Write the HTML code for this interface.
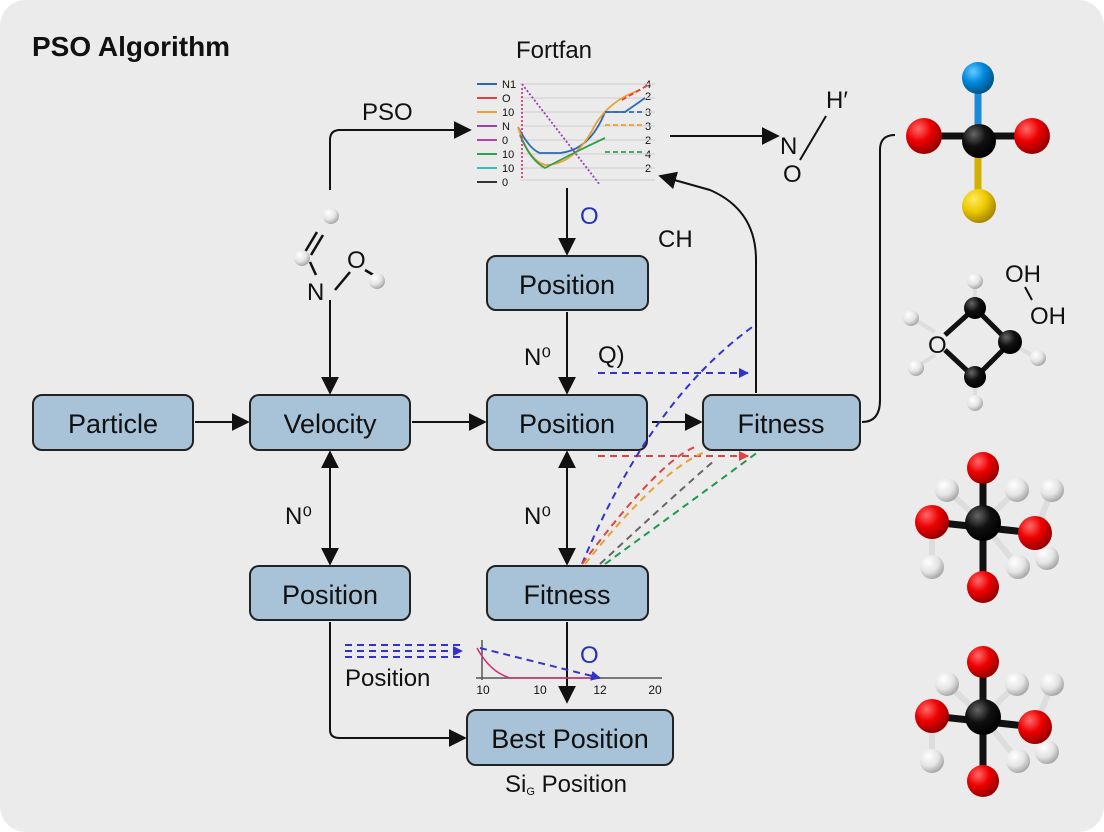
<!DOCTYPE html>
<html><head><meta charset="utf-8"><style>
html,body{margin:0;padding:0;background:#fff}
svg{display:block}
text{font-family:"Liberation Sans",sans-serif;fill:#111}
</style></head><body>
<svg width="1104" height="832" viewBox="0 0 1104 832" xmlns="http://www.w3.org/2000/svg">
<defs>
<marker id="a" markerWidth="10" markerHeight="10" refX="9" refY="5" orient="auto" markerUnits="userSpaceOnUse" viewBox="0 0 10 10"><path d="M0,0 L10,5 L0,10z" fill="#111"/></marker>
<marker id="A" viewBox="0 0 10 10" refX="9" refY="5" markerWidth="18" markerHeight="18" orient="auto" markerUnits="userSpaceOnUse"><path d="M0,0 L10,5 L0,10z" fill="#111"/></marker>
<marker id="As" viewBox="0 0 10 10" refX="9" refY="5" markerWidth="18" markerHeight="18" orient="auto-start-reverse" markerUnits="userSpaceOnUse"><path d="M0,0 L10,5 L0,10z" fill="#111"/></marker>
<marker id="b" viewBox="0 0 10 10" refX="9" refY="5" markerWidth="10" markerHeight="10" orient="auto" markerUnits="userSpaceOnUse"><path d="M0,0 L10,5 L0,10z" fill="#33c"/></marker>
<marker id="r" viewBox="0 0 10 10" refX="9" refY="5" markerWidth="10" markerHeight="10" orient="auto" markerUnits="userSpaceOnUse"><path d="M0,0 L10,5 L0,10z" fill="#d44"/></marker>
<radialGradient id="gR" cx="35%" cy="30%" r="70%"><stop offset="0" stop-color="#ff6a6a"/><stop offset=".5" stop-color="#e00"/><stop offset="1" stop-color="#900"/></radialGradient>
<radialGradient id="gK" cx="35%" cy="30%" r="70%"><stop offset="0" stop-color="#666"/><stop offset=".5" stop-color="#111"/><stop offset="1" stop-color="#000"/></radialGradient>
<radialGradient id="gW" cx="35%" cy="30%" r="70%"><stop offset="0" stop-color="#fff"/><stop offset=".6" stop-color="#e4e4e4"/><stop offset="1" stop-color="#aaa"/></radialGradient>
<radialGradient id="gB" cx="35%" cy="30%" r="70%"><stop offset="0" stop-color="#6cf"/><stop offset=".5" stop-color="#08d"/><stop offset="1" stop-color="#058"/></radialGradient>
<radialGradient id="gY" cx="35%" cy="30%" r="70%"><stop offset="0" stop-color="#ffe866"/><stop offset=".5" stop-color="#ec0"/><stop offset="1" stop-color="#a80"/></radialGradient>
</defs>
<rect x="0" y="0" width="1104" height="832" rx="26" fill="#ebebeb"/>
<text x="32" y="56" font-size="28" font-weight="bold">PSO Algorithm</text>

<!-- boxes -->
<g fill="#a8c3d7" stroke="#222" stroke-width="2">
<rect x="33" y="395" width="160" height="55" rx="9"/>
<rect x="250" y="395" width="160" height="55" rx="9"/>
<rect x="487" y="395" width="160" height="55" rx="9"/>
<rect x="703" y="395" width="157" height="55" rx="9"/>
<rect x="487" y="256" width="161" height="54" rx="9"/>
<rect x="250" y="566" width="160" height="54" rx="9"/>
<rect x="487" y="566" width="161" height="54" rx="9"/>
<rect x="467" y="710" width="206" height="55" rx="9"/>
</g>
<g font-size="27" text-anchor="middle">
<text x="113" y="433">Particle</text>
<text x="330" y="433">Velocity</text>
<text x="567" y="433">Position</text>
<text x="781" y="433">Fitness</text>
<text x="567" y="294">Position</text>
<text x="330" y="604">Position</text>
<text x="567" y="604">Fitness</text>
<text x="570" y="748">Best Position</text>
</g>

<!-- arrows -->
<g stroke="#111" stroke-width="2" fill="none">
<line x1="195" y1="422" x2="248" y2="422" marker-end="url(#A)"/>
<line x1="412" y1="422" x2="485" y2="422" marker-end="url(#A)"/>
<line x1="652" y1="422" x2="701" y2="422" marker-end="url(#A)"/>
<line x1="330" y1="300" x2="330" y2="393" marker-end="url(#A)"/>
<line x1="330" y1="452" x2="330" y2="564" marker-start="url(#As)" marker-end="url(#A)"/>
<line x1="567" y1="452" x2="567" y2="564" marker-start="url(#As)" marker-end="url(#A)"/>
<line x1="567" y1="312" x2="567" y2="393" marker-end="url(#A)"/>
<line x1="567" y1="188" x2="567" y2="254" marker-end="url(#A)"/>
<line x1="567" y1="622" x2="567" y2="702" marker-end="url(#A)"/>
<path d="M330,190 V140 Q330,130 340,130 H470" marker-end="url(#A)"/>
<line x1="670" y1="136" x2="778" y2="136" marker-end="url(#A)"/>
<path d="M330,622 V730 Q330,738 340,738 H465" marker-end="url(#A)"/>
<path d="M756,393 V260 Q756,210 710,190 L660,176" marker-end="url(#A)"/>
<path d="M862,422 Q880,422 880,400 V150 Q880,135 895,135"/>
</g>

<!-- dashed colored -->
<g fill="none" stroke-width="2" stroke-dasharray="7,5">
<line x1="598" y1="373" x2="748" y2="373" stroke="#33c" marker-end="url(#b)"/>
<line x1="598" y1="456" x2="748" y2="456" stroke="#d44" marker-end="url(#r)"/>
<path d="M582,564 Q650,400 755,325" stroke="#33c"/>
<path d="M582,564 Q660,460 695,447" stroke="#d44"/>
<path d="M585,564 Q660,470 705,452" stroke="#e9a030"/>
<path d="M600,564 Q680,490 715,460" stroke="#666"/>
<path d="M605,564 Q700,495 758,452" stroke="#1a9a4a"/>
<g stroke="#33c"><line x1="345" y1="645" x2="460" y2="645"/><line x1="345" y1="651" x2="462" y2="651" marker-end="url(#b)"/><line x1="345" y1="657" x2="460" y2="657"/></g>
</g>
<text x="345" y="686" font-size="24">Position</text>

<!-- small chart bottom -->
<g fill="none" stroke-width="1.5">
<line x1="482" y1="640" x2="482" y2="680" stroke="#555"/>
<line x1="476" y1="678" x2="662" y2="678" stroke="#555"/>
<path d="M477,648 Q490,672 510,678 H600" stroke="#d03070"/>
<path d="M480,648 L600,678" stroke="#33c" stroke-width="2" stroke-dasharray="7,5" marker-end="url(#b)"/>
</g>
<g font-size="12" text-anchor="middle"><text x="483" y="694">10</text><text x="540" y="694">10</text><text x="600" y="694">12</text><text x="655" y="694">20</text></g>
<text x="580" y="663" font-size="24" fill="#2233bb" style="fill:#2233bb">O</text>
<text x="580" y="224" font-size="24" style="fill:#2233bb">O</text>
<text x="505" y="792" font-size="24">Si<tspan font-size="11" dy="3">G</tspan><tspan dy="-3"> Position</tspan></text>

<!-- labels -->
<g font-size="24">
<text x="362" y="120">PSO</text>
<text x="516" y="58">Fortfan</text>
<text x="658" y="247">CH</text>
<text x="524" y="365">N⁰</text>
<text x="598" y="363">Q)</text>
<text x="285" y="524">N⁰</text>
<text x="524" y="524">N⁰</text>
<text x="780" y="154">N</text>
<text x="783" y="182">O</text>
<text x="826" y="108">H′</text>
</g>
<line x1="800" y1="160" x2="826" y2="116" stroke="#111" stroke-width="2"/>

<!-- top chart -->
<g font-size="11">
<g stroke-width="2"><line x1="477" y1="84" x2="497" y2="84" stroke="#2a6ab8"/><line x1="477" y1="98" x2="497" y2="98" stroke="#e04040"/><line x1="477" y1="112" x2="497" y2="112" stroke="#f0a030"/><line x1="477" y1="126" x2="497" y2="126" stroke="#9a40b0"/><line x1="477" y1="140" x2="497" y2="140" stroke="#c040a0"/><line x1="477" y1="154" x2="497" y2="154" stroke="#30a050"/><line x1="477" y1="168" x2="497" y2="168" stroke="#30c0c0"/><line x1="477" y1="182" x2="497" y2="182" stroke="#333"/></g>
<text x="502" y="88">N1</text><text x="502" y="102">O</text><text x="502" y="116">10</text><text x="502" y="130">N</text><text x="502" y="144">0</text><text x="502" y="158">10</text><text x="502" y="172">10</text><text x="502" y="186">0</text>
<text x="645" y="88">4</text><text x="645" y="100">2</text><text x="645" y="116">3</text><text x="645" y="130">3</text><text x="645" y="144">2</text><text x="645" y="158">4</text><text x="645" y="172">2</text>
</g>
<g stroke="#ccc" stroke-width="1"><line x1="520" y1="84" x2="655" y2="84"/><line x1="520" y1="98" x2="655" y2="98"/><line x1="520" y1="112" x2="655" y2="112"/><line x1="520" y1="126" x2="655" y2="126"/><line x1="520" y1="140" x2="655" y2="140"/><line x1="520" y1="154" x2="655" y2="154"/><line x1="520" y1="168" x2="655" y2="168"/><line x1="520" y1="180" x2="655" y2="180"/></g>
<g fill="none" stroke-width="1.8">
<path d="M518,127 Q530,150 540,153 H560 Q590,150 605,112 H625 Q635,105 645,98" stroke="#2a6ab8"/>
<path d="M518,127 Q528,160 545,165 Q575,165 595,125 Q610,100 640,90" stroke="#f0a030"/>
<path d="M520,135 Q530,160 545,168 Q560,160 580,150 Q590,145 605,138" stroke="#30a050"/>
<path d="M605,125 H645" stroke="#f0a030" stroke-dasharray="5,3"/>
<path d="M605,112 H645" stroke="#2a6ab8" stroke-dasharray="5,3"/>
<path d="M605,152 H645" stroke="#30a050" stroke-dasharray="5,3"/>
<path d="M622,100 L650,84" stroke="#e04040" stroke-dasharray="5,3"/>
<path d="M522,84 L600,185" stroke="#9a40b0" stroke-dasharray="2,2"/>
<path d="M522,88 V178" stroke="#d04080" stroke-dasharray="2,2"/>
</g>

<!-- NO molecule left -->
<g stroke="#111" stroke-width="2.5"><line x1="317" y1="232" x2="305" y2="252"/><line x1="323" y1="235" x2="311" y2="255"/><line x1="310" y1="262" x2="316" y2="275"/><line x1="335" y1="290" x2="350" y2="272"/><line x1="365" y1="270" x2="375" y2="276"/></g>
<circle cx="331" cy="216" r="8" fill="url(#gW)"/>
<circle cx="302" cy="258" r="8" fill="url(#gW)"/>
<circle cx="377" cy="281" r="8" fill="url(#gW)"/>
<text x="307" y="300" font-size="24">N</text>
<text x="347" y="268" font-size="24">O</text>

<!-- molecule 1 -->
<g stroke-width="7">
<line x1="978" y1="75" x2="978" y2="140" stroke="#1a8ad8"/>
<line x1="978" y1="140" x2="978" y2="200" stroke="#d4b000"/>
<line x1="925" y1="136" x2="1030" y2="136" stroke="#111"/>
</g>
<circle cx="978" cy="78" r="16" fill="url(#gB)"/>
<circle cx="924" cy="136" r="18" fill="url(#gR)"/>
<circle cx="1032" cy="136" r="18" fill="url(#gR)"/>
<circle cx="979" cy="141" r="17" fill="url(#gK)"/>
<circle cx="979" cy="206" r="17" fill="url(#gY)"/>

<!-- molecule 2 -->
<g stroke="#111" stroke-width="5"><line x1="975" y1="308" x2="1010" y2="343"/><line x1="1010" y1="343" x2="975" y2="378"/><line x1="975" y1="308" x2="945" y2="335"/><line x1="945" y1="350" x2="975" y2="378"/></g>
<g stroke="#ddd" stroke-width="4"><line x1="975" y1="308" x2="975" y2="280"/><line x1="975" y1="378" x2="975" y2="405"/><line x1="1010" y1="343" x2="1037" y2="358"/><line x1="912" y1="318" x2="935" y2="332"/><line x1="915" y1="368" x2="935" y2="355"/></g>
<circle cx="975" cy="281" r="8" fill="url(#gW)"/><circle cx="911" cy="318" r="8" fill="url(#gW)"/><circle cx="916" cy="368" r="8" fill="url(#gW)"/><circle cx="1038" cy="358" r="8" fill="url(#gW)"/><circle cx="975" cy="403" r="8" fill="url(#gW)"/>
<circle cx="975" cy="308" r="11" fill="url(#gK)"/><circle cx="1010" cy="342" r="12" fill="url(#gK)"/><circle cx="975" cy="377" r="11" fill="url(#gK)"/>
<text x="928" y="353" font-size="24">O</text>
<text x="1005" y="282" font-size="24">OH</text>
<text x="1030" y="324" font-size="24">OH</text>
<line x1="1025" y1="287" x2="1032" y2="300" stroke="#111" stroke-width="2"/>

<!-- molecules 3 & 4 -->
<g id="m3">
<g stroke-width="7"><line x1="983" y1="468" x2="983" y2="587" stroke="#111"/><line x1="932" y1="522" x2="1035" y2="533" stroke="#111"/></g>
<g stroke="#ddd" stroke-width="6"><line x1="947" y1="490" x2="983" y2="523"/><line x1="1017" y1="490" x2="983" y2="523"/><line x1="1018" y1="567" x2="983" y2="523"/><line x1="932" y1="567" x2="932" y2="522"/><line x1="1052" y1="490" x2="1035" y2="533"/></g>
<circle cx="947" cy="490" r="12" fill="url(#gW)"/><circle cx="1017" cy="490" r="12" fill="url(#gW)"/><circle cx="1052" cy="490" r="12" fill="url(#gW)"/><circle cx="932" cy="567" r="12" fill="url(#gW)"/><circle cx="1047" cy="558" r="12" fill="url(#gW)"/>
<circle cx="983" cy="523" r="18" fill="url(#gK)"/>
<circle cx="1018" cy="567" r="12" fill="url(#gW)"/>
<circle cx="983" cy="468" r="16" fill="url(#gR)"/><circle cx="932" cy="522" r="17" fill="url(#gR)"/><circle cx="1035" cy="533" r="17" fill="url(#gR)"/><circle cx="983" cy="587" r="16" fill="url(#gR)"/>
</g>
<use href="#m3" transform="translate(0,194)"/>
</svg>
</body></html>
